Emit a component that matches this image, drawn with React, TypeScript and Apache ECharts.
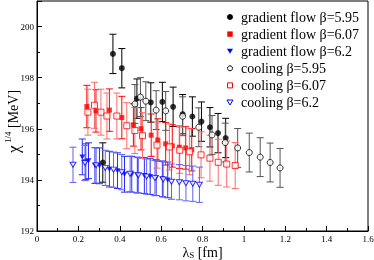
import React, { useEffect, useRef } from 'react';
import * as echarts from 'echarts';

// gradient flow beta=5.95 (filled black circles)
const gf595X = [0.318, 0.367, 0.41, 0.483, 0.55, 0.606, 0.658, 0.704, 0.751, 0.795, 0.836, 0.875, 0.912];
const gf595Y = [194.68, 198.93, 198.37, 197.18, 197.03, 197.05, 196.86, 196.57, 196.48, 196.28, 196.06, 195.83, 195.64];
const gf595E = [0.77, 0.77, 0.77, 0.77, 0.77, 0.77, 0.77, 0.77, 0.77, 0.77, 0.77, 0.77, 0.77];

// gradient flow beta=6.07 (filled red squares)
const gf607X = [0.241, 0.285, 0.35, 0.41, 0.466, 0.503, 0.552, 0.584, 0.622, 0.654, 0.688, 0.719, 0.748];
const gf607Y = [196.87, 196.7, 196.73, 196.44, 196.15, 196.0, 195.75, 195.56, 195.41, 195.33, 195.28, 195.25, 195.18];
const gf607E = [0.83, 0.83, 0.83, 0.83, 0.83, 0.83, 0.83, 0.83, 0.83, 0.83, 0.83, 0.83, 0.83];

// gradient flow beta=6.2 (filled blue down-triangles)
const gf62X = [0.219, 0.236, 0.249, 0.28, 0.302, 0.35, 0.389, 0.423, 0.458, 0.485, 0.519, 0.547, 0.576, 0.606, 0.632];
const gf62Y = [194.9, 194.71, 194.75, 194.56, 194.55, 194.42, 194.36, 194.22, 194.22, 194.19, 194.17, 194.13, 194.09, 194.04, 194.0];
const gf62E = [0.7, 0.7, 0.7, 0.7, 0.7, 0.7, 0.7, 0.7, 0.7, 0.7, 0.7, 0.7, 0.7, 0.7, 0.7];

// cooling beta=5.95 (open black circles)
const c595X = [0.473, 0.5, 0.526, 0.576, 0.622, 0.704, 0.782, 0.846, 0.91, 0.97, 1.026, 1.079, 1.127, 1.175];
const c595Y = [196.97, 197.24, 197.08, 196.73, 196.7, 196.49, 196.06, 195.76, 195.46, 195.25, 195.07, 194.89, 194.68, 194.47];
const c595E = [0.76, 0.76, 0.76, 0.76, 0.76, 0.76, 0.76, 0.76, 0.76, 0.76, 0.76, 0.76, 0.76, 0.76];

// cooling beta=6.07 (open red squares)
const c607X = [0.246, 0.278, 0.309, 0.338, 0.386, 0.434, 0.473, 0.51, 0.58, 0.64, 0.69, 0.738, 0.793, 0.836, 0.876, 0.917, 0.958];
const c607Y = [196.65, 196.92, 196.65, 196.5, 196.5, 196.12, 195.93, 195.73, 195.36, 195.29, 195.16, 195.1, 194.98, 194.85, 194.69, 194.62, 194.56];
const c607E = [0.9, 0.9, 0.9, 0.9, 0.9, 0.9, 0.9, 0.9, 0.9, 0.9, 0.9, 0.9, 0.9, 0.9, 0.9, 0.9, 0.9];

// cooling beta=6.2 (open blue down-triangles)
const c62X = [0.174, 0.232, 0.286, 0.33, 0.37, 0.41, 0.45, 0.49, 0.53, 0.57, 0.61, 0.65, 0.688, 0.72, 0.753, 0.785];
const c62Y = [194.59, 194.66, 194.57, 194.47, 194.4, 194.3, 194.24, 194.18, 194.13, 194.07, 194.02, 193.93, 193.91, 193.87, 193.85, 193.81];
const c62E = [0.69, 0.69, 0.69, 0.69, 0.69, 0.69, 0.69, 0.69, 0.69, 0.69, 0.69, 0.69, 0.69, 0.69, 0.69, 0.69];

const xTicks = [0, 0.2, 0.4, 0.6, 0.8, 1, 1.2, 1.4, 1.6];
const yTicks = [192, 194, 196, 198, 200];
const seriesNames = [
  'gradient flow β=5.95',
  'gradient flow β=6.07',
  'gradient flow β=6.2',
  'cooling β=5.95',
  'cooling β=6.07',
  'cooling β=6.2',
];

const FONT = 'Liberation Serif';
const DOWN_TRI = 'path://M0,0L10,0L5,9Z';

function errSeries(id: string, xs: number[], ys: number[], es: number[], color: string) {
  return {
    type: 'custom',
    name: id,
    silent: true,
    data: xs.map((x, i) => [x, ys[i], es[i]]),
    encode: { x: 0, y: 1 },
    renderItem: (_p: any, api: any) => {
      const x = api.value(0);
      const y = api.value(1);
      const e = api.value(2);
      const t = api.coord([x, y + e]);
      const b = api.coord([x, y - e]);
      const hw = 3.5;
      const st = { stroke: color, lineWidth: 1 };
      return {
        type: 'group',
        children: [
          { type: 'line', shape: { x1: t[0], y1: t[1], x2: b[0], y2: b[1] }, style: st },
          { type: 'line', shape: { x1: t[0] - hw, y1: t[1], x2: t[0] + hw, y2: t[1] }, style: st },
          { type: 'line', shape: { x1: b[0] - hw, y1: b[1], x2: b[0] + hw, y2: b[1] }, style: st },
        ],
      };
    },
  };
}

function ptSeries(name: string, xs: number[], ys: number[], symbol: string, size: any, itemStyle: any) {
  return {
    type: 'scatter',
    name,
    data: xs.map((x, i) => [x, ys[i]]),
    symbol,
    symbolSize: size,
    itemStyle,
  };
}

// legend drawn as graphic rows
function legendRow(i: number) {
  const cx = 230;
  const cy = 17 + i * 17.1;
  const colors = ['#000', '#ff0000', '#0000ff'];
  const c = colors[i % 3];
  const open = i >= 3;
  const style = open ? { fill: '#fff', stroke: c, lineWidth: 1 } : { fill: c };
  let marker: any;
  if (i % 3 === 0) marker = { type: 'circle', shape: { cx, cy, r: open ? 2.5 : 3 }, style };
  else if (i % 3 === 1) marker = { type: 'rect', shape: open ? { x: cx - 2.5, y: cy - 2.5, width: 5, height: 5 } : { x: cx - 2.7, y: cy - 2.7, width: 5.4, height: 5.4 }, style };
  else marker = { type: 'polygon', shape: { points: [[cx - 3, cy - 2.5], [cx + 3, cy - 2.5], [cx, cy + 2.5]] }, style };
  return {
    type: 'group',
    children: [
      marker,
      { type: 'text', x: 241, y: cy, style: { text: seriesNames[i], font: `14px "${FONT}"`, fill: '#000', verticalAlign: 'middle' } },
    ],
  };
}

export default function App() {
  const ref = useRef<HTMLDivElement>(null);
  useEffect(() => {
    if (!ref.current) return;
    const chart = echarts.init(ref.current, undefined, { renderer: 'svg' });
    const option: any = {
      animation: false,
      grid: {
        left: 37, right: 6, top: 1, bottom: 29,
        containLabel: false,
        outerBoundsMode: 'none',
        show: true, borderColor: '#000', borderWidth: 1,
      },
      xAxis: {
        type: 'value',
        min: xTicks[0],
        max: xTicks[xTicks.length - 1],
        interval: 0.2,
        name: '{l|λ}{s|S}{n| [fm]}',
        nameLocation: 'middle',
        nameGap: 13,
        nameMoveOverlap: false,
        nameTextStyle: {
          rich: {
            l: { fontFamily: FONT, fontSize: 14, color: '#000', lineHeight: 16 },
            s: { fontFamily: FONT, fontSize: 9, color: '#000', lineHeight: 10, padding: [6, 0, 0, 0] },
            n: { fontFamily: FONT, fontSize: 14, color: '#000', lineHeight: 16 },
          },
        },
        axisLine: { lineStyle: { color: '#000', width: 1 } },
        axisTick: { inside: true, length: 5, lineStyle: { color: '#000' } },
        minorTick: { show: true, splitNumber: 2, length: 3, lineStyle: { color: '#000' } },
        splitLine: { show: false },
        axisLabel: { fontFamily: FONT, fontSize: 9, color: '#000', margin: 3 },
      },
      yAxis: [
        {
          type: 'value',
          min: yTicks[0],
          max: 201,
          interval: 1,
          axisLine: { lineStyle: { color: '#000', width: 1 } },
          axisTick: { inside: true, length: 3, lineStyle: { color: '#000' } },
          splitLine: { show: false },
          axisLabel: {
            fontFamily: FONT,
            fontSize: 9,
            color: '#000',
            margin: 3,
            formatter: (v: number) => (yTicks.indexOf(v) >= 0 ? String(v) : ''),
          },
        },
        {
          type: 'value',
          position: 'left',
          min: yTicks[0],
          max: 201,
          interval: 2,
          axisLine: { show: false },
          axisTick: { inside: true, length: 5, lineStyle: { color: '#000' } },
          splitLine: { show: false },
          axisLabel: { show: false },
        },
      ],
      graphic: [
        {
          type: 'group',
          x: 13.5,
          y: 119,
          rotation: Math.PI / 2,
          children: [
            { type: 'text', x: -34, y: 0, style: { text: 'χ', font: `17px "${FONT}"`, fill: '#000', verticalAlign: 'middle' } },
            { type: 'text', x: -24, y: -6, style: { text: '1/4', font: `9px "${FONT}"`, fill: '#000', verticalAlign: 'middle' } },
            { type: 'text', x: -9, y: 0, style: { text: '[MeV]', font: `14px "${FONT}"`, fill: '#000', verticalAlign: 'middle' } },
          ],
        },
        ...seriesNames.map((_n, i) => legendRow(i)),
      ],
      series: [
        errSeries('e1', gf595X, gf595Y, gf595E, '#000'),
        ptSeries(seriesNames[0], gf595X, gf595Y, 'circle', 6, { color: '#000' }),
        errSeries('e2', gf607X, gf607Y, gf607E, '#ff0000'),
        ptSeries(seriesNames[1], gf607X, gf607Y, 'rect', 5, { color: '#ff0000' }),
        errSeries('e3', gf62X, gf62Y, gf62E, '#2a2aff'),
        ptSeries(seriesNames[2], gf62X, gf62Y, DOWN_TRI, [6, 5], { color: '#0000ff' }),
        errSeries('e4', c595X, c595Y, c595E, '#555'),
        ptSeries(seriesNames[3], c595X, c595Y, 'circle', 6, { color: '#fff', borderColor: '#000', borderWidth: 1 }),
        errSeries('e5', c607X, c607Y, c607E, '#ff6a6a'),
        ptSeries(seriesNames[4], c607X, c607Y, 'rect', 6, { color: '#fff', borderColor: '#ff0000', borderWidth: 1 }),
        errSeries('e6', c62X, c62Y, c62E, '#6060ff'),
        ptSeries(seriesNames[5], c62X, c62Y, DOWN_TRI, [6, 5], { color: '#fff', borderColor: '#0000ff', borderWidth: 1 }),
      ],
    };
    chart.setOption(option);
    return () => chart.dispose();
  }, []);
  return <div ref={ref} style={{ position: 'fixed', left: 0, top: 0, width: 374, height: 260 }} />;
}
